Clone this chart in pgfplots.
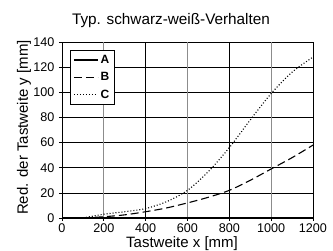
\documentclass[border=0pt]{standalone}
\usepackage{fontspec}
\setmainfont{Liberation Sans}
\usepackage{pgfplots}
\pgfplotsset{compat=1.18}
\begin{document}
\begin{tikzpicture}[x=1pt,y=1pt]
\useasboundingbox (0,0) rectangle (333,251);
\node[font=\fontsize{15.3}{17}\selectfont, anchor=base] at (171,226) {Typ. schwarz-weiß-Verhalten};
\node[font=\fontsize{15}{17}\selectfont, anchor=base] at (182,3.5) {Tastweite x [mm]};
\node[font=\fontsize{15}{17}\selectfont, anchor=base, rotate=90] at (28,123.5) {Red. der Tastweite y [mm]};
\begin{axis}[
  at={(62pt,33pt)}, anchor=south west,
  scale only axis, width=251pt, height=176pt,
  xmin=0, xmax=1200, ymin=0, ymax=140,
  xtick={0,400,800,1200}, ytick={0,20,...,140},
  extra x ticks={200,600,1000},
  extra x tick style={grid style={color=black!45, line width=1.3pt}},
  grid=major,
  grid style={black, line width=0.7pt},
  axis line style={line width=0.9pt},
  tick pos=left, tick align=outside, major tick length=3pt,
  tick style={black, line width=0.7pt},
  /pgf/number format/assume math mode=true,
  /pgf/number format/1000 sep={},
  tick label style={font=\fontsize{12.6}{14}\selectfont},
  xticklabel style={yshift=1pt},
  yticklabel style={xshift=-1pt},
  legend style={at={(0.032,0.955)}, anchor=north west, draw=black, line width=0.6pt,
    font=\fontsize{12}{13}\selectfont\bfseries, row sep=3.5pt, inner sep=3pt, fill=white},
  legend cell align=left,
  legend image code/.code={\draw[#1] (0pt,0pt) -- (24pt,0pt);},
]
\addplot[black, line width=1.3pt] coordinates {(0,0) (1200,0)};
\addlegendentry{A}
\addplot[black, line width=1.1pt, dash pattern=on 8pt off 4pt, smooth] coordinates {
(100,0) (200,1) (300,2.5) (400,5) (500,8) (600,12) (700,16.5) (800,22) (900,30) (1000,39) (1100,48) (1200,58)};
\addlegendentry{B}
\addplot[black, line width=1.1pt, dash pattern=on 1pt off 2pt, smooth] coordinates {
(100,0) (200,3) (300,5) (400,7.5) (500,13) (600,22) (700,37) (800,56) (900,78) (1000,99) (1100,116) (1200,128)};
\addlegendentry{C}
\end{axis}
\end{tikzpicture}
\end{document}
